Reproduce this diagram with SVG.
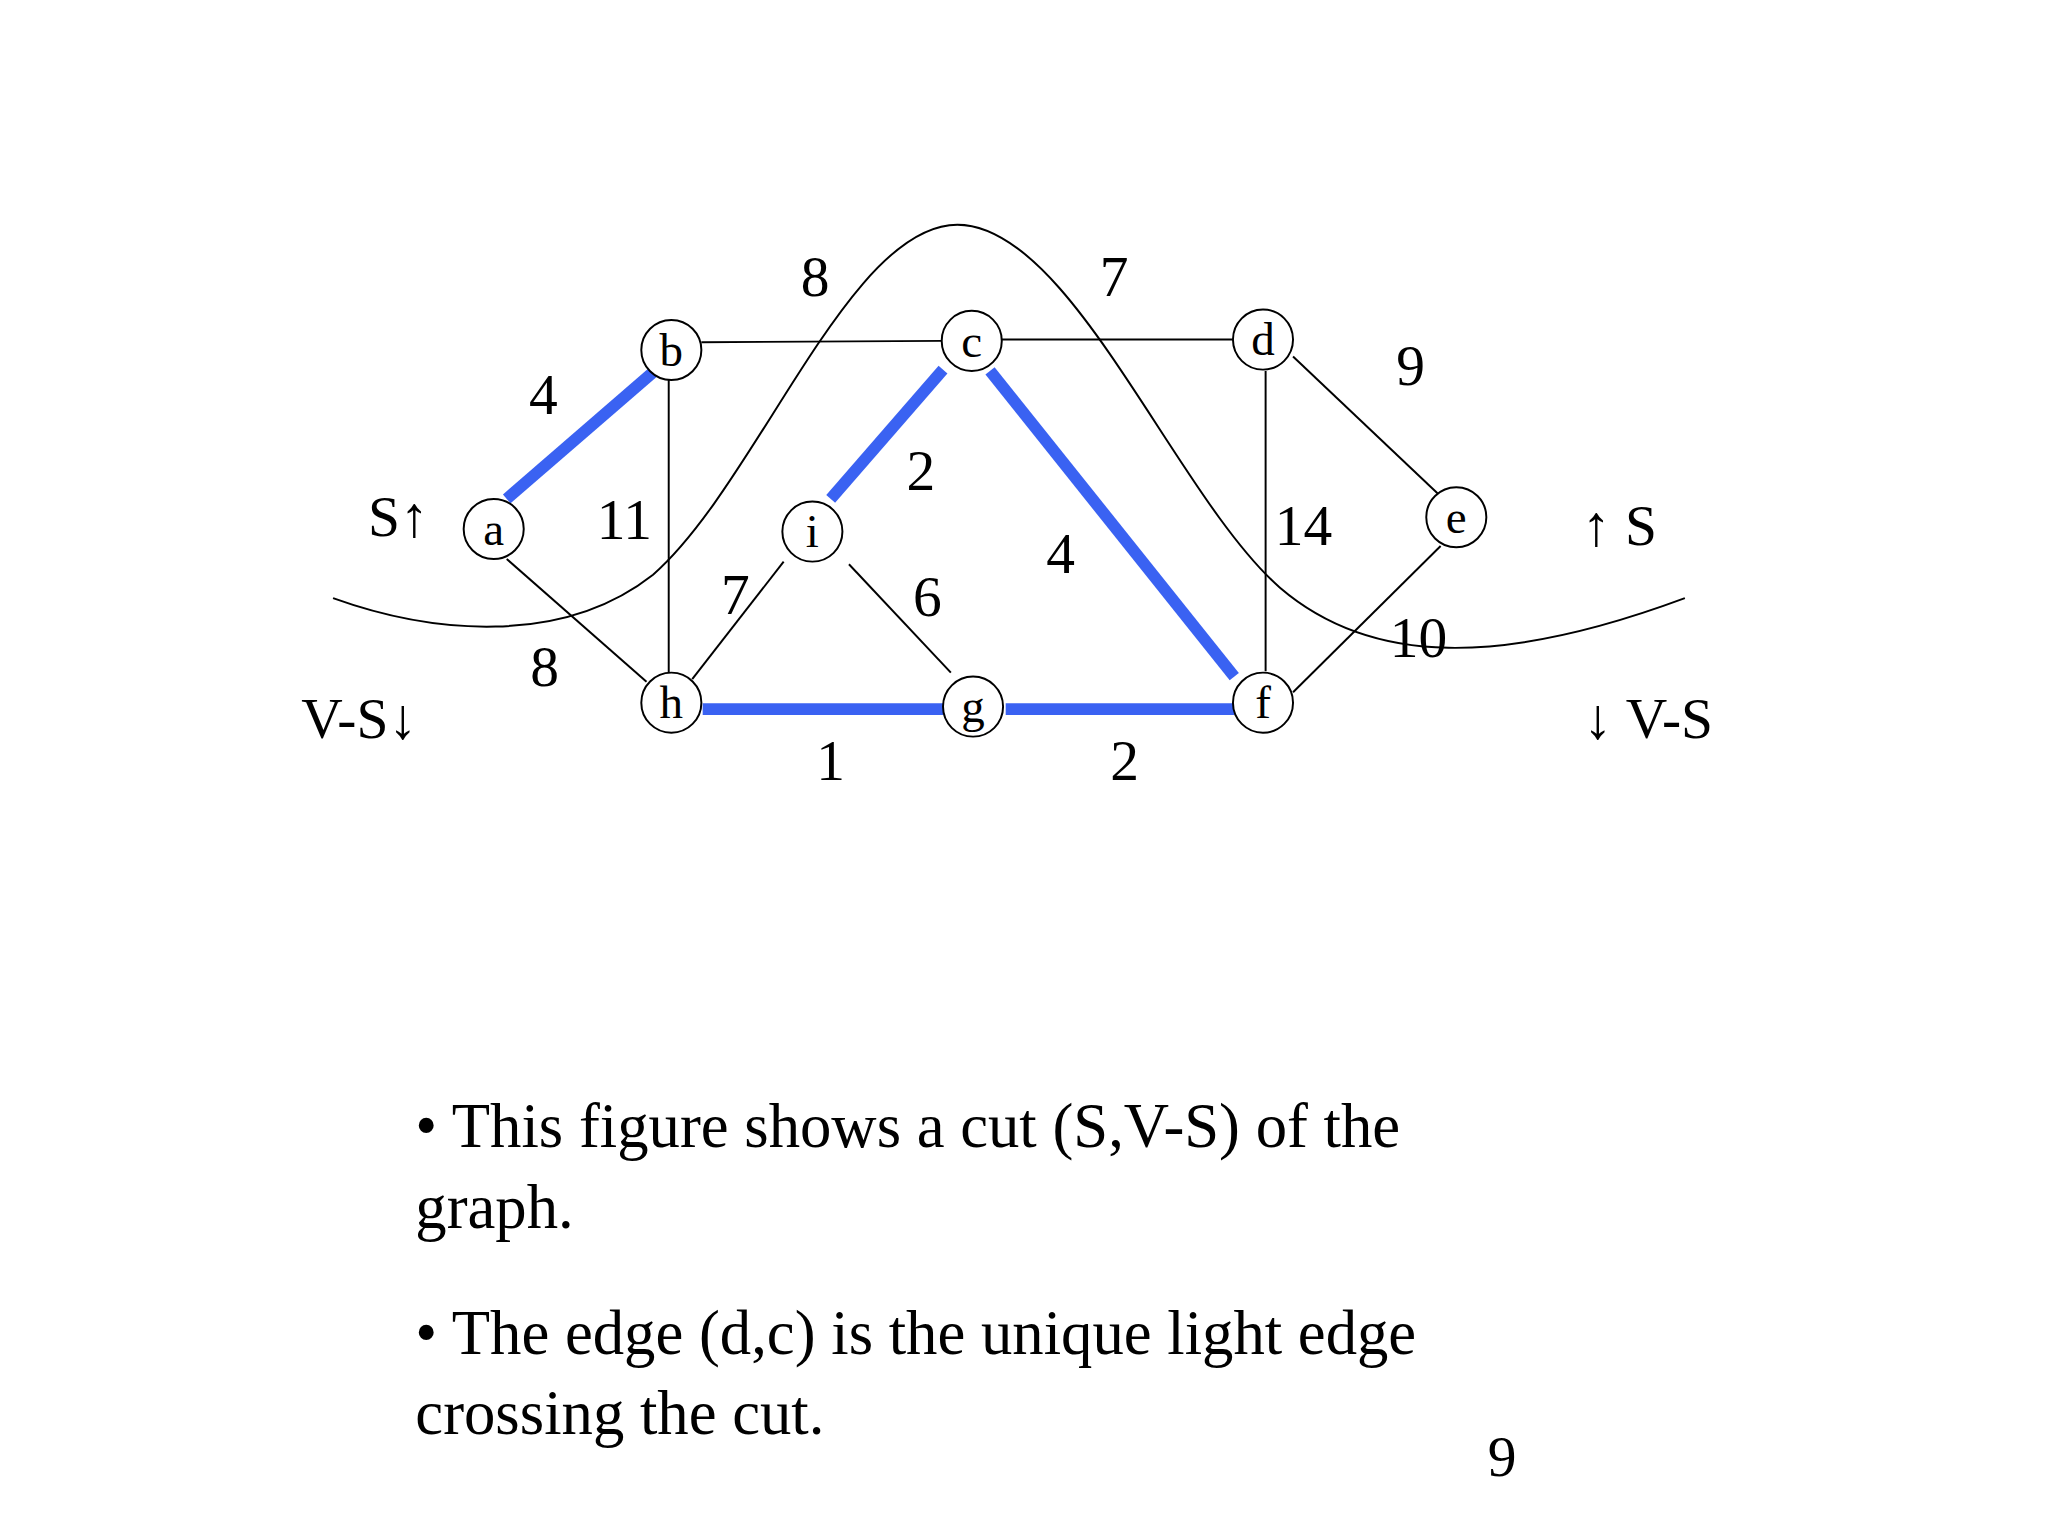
<svg xmlns="http://www.w3.org/2000/svg" width="2048" height="1536" viewBox="0 0 2048 1536">
<style>
.t{font-family:"Liberation Serif",serif;fill:#000}
.w{font-size:44px;text-anchor:middle}
.n{font-size:36px;text-anchor:middle}
.thin{stroke:#000;stroke-width:1.5;fill:none}
.blue{stroke:#3a62f2;stroke-width:9;fill:none}
.node circle{fill:#fff;stroke:#000;stroke-width:1.5}
</style>
<rect width="2048" height="1536" fill="#fff"/>
<g transform="scale(1.3061)">
<g id="connectors">
<line class="thin" x1="537" y1="262" x2="721" y2="261"/>
<line class="thin" x1="767" y1="260" x2="944" y2="260"/>
<line class="thin" x1="512" y1="291" x2="512" y2="515"/>
<line class="thin" x1="388" y1="428" x2="495" y2="522"/>
<line class="thin" x1="530" y1="520" x2="600" y2="430"/>
<line class="thin" x1="650" y1="432" x2="728" y2="515"/>
<line class="thin" x1="990" y1="273" x2="1103" y2="380"/>
<line class="thin" x1="969" y1="284" x2="969" y2="514"/>
<line class="thin" x1="990" y1="530" x2="1103" y2="418"/>
<line class="blue" x1="388" y1="382" x2="500" y2="285"/>
<line class="blue" x1="636" y1="382" x2="722" y2="283"/>
<line class="blue" x1="758" y1="284" x2="945" y2="518"/>
<line class="blue" x1="538" y1="543" x2="722" y2="543"/>
<line class="blue" x1="770" y1="543" x2="945" y2="543"/>
<path class="thin" d="M255,458 C330,485 430,495 500,440 C580,370 650,172 733,172 C820,172 900,380 980,450 C1050,510 1150,510 1290,458"/>
</g>
<g id="a" class="node"><circle cx="378" cy="405" r="23"/><text class="t n" x="378" y="417">a</text></g>
<g id="b" class="node"><circle cx="514" cy="268" r="23"/><text class="t n" x="514" y="280">b</text></g>
<g id="c" class="node"><circle cx="744" cy="261" r="23"/><text class="t n" x="744" y="273">c</text></g>
<g id="d" class="node"><circle cx="967" cy="260" r="23"/><text class="t n" x="967" y="272">d</text></g>
<g id="e" class="node"><circle cx="1115" cy="396" r="23"/><text class="t n" x="1115" y="408">e</text></g>
<g id="i" class="node"><circle cx="622" cy="407" r="23"/><text class="t n" x="622" y="419">i</text></g>
<g id="h" class="node"><circle cx="514" cy="538" r="23"/><text class="t n" x="514" y="550">h</text></g>
<g id="g" class="node"><circle cx="745" cy="541" r="23"/><text class="t n" x="745" y="553">g</text></g>
<g id="f" class="node"><circle cx="967" cy="538" r="23"/><text class="t n" x="967" y="550">f</text></g>
<g id="labels" class="t w">
<text x="624" y="227">8</text><text x="853" y="227">7</text>
<text x="416" y="317">4</text><text x="1080" y="295">9</text>
<text x="705" y="375">2</text><text x="478" y="413">11</text>
<text x="998" y="417">14</text><text x="812" y="439">4</text>
<text x="563" y="470">7</text><text x="710" y="472">6</text>
<text x="1086" y="503">10</text><text x="417" y="525">8</text>
<text x="636" y="597">1</text><text x="861" y="597">2</text>
<text x="305" y="410">S↑</text><text x="1240" y="417">↑ S</text>
<text x="275" y="565">V-S↓</text><text x="1262" y="565">↓ V-S</text>
</g>
<g id="text" class="t" style="font-size:48px">
<text x="318" y="878">• This figure shows a cut (S,V-S) of the</text>
<text x="318" y="940">graph.</text>
<text x="318" y="1037">• The edge (d,c) is the unique light edge</text>
<text x="318" y="1098">crossing the cut.</text>
<text x="1139" y="1130" style="font-size:44px">9</text>
</g>
</g>
</svg>
